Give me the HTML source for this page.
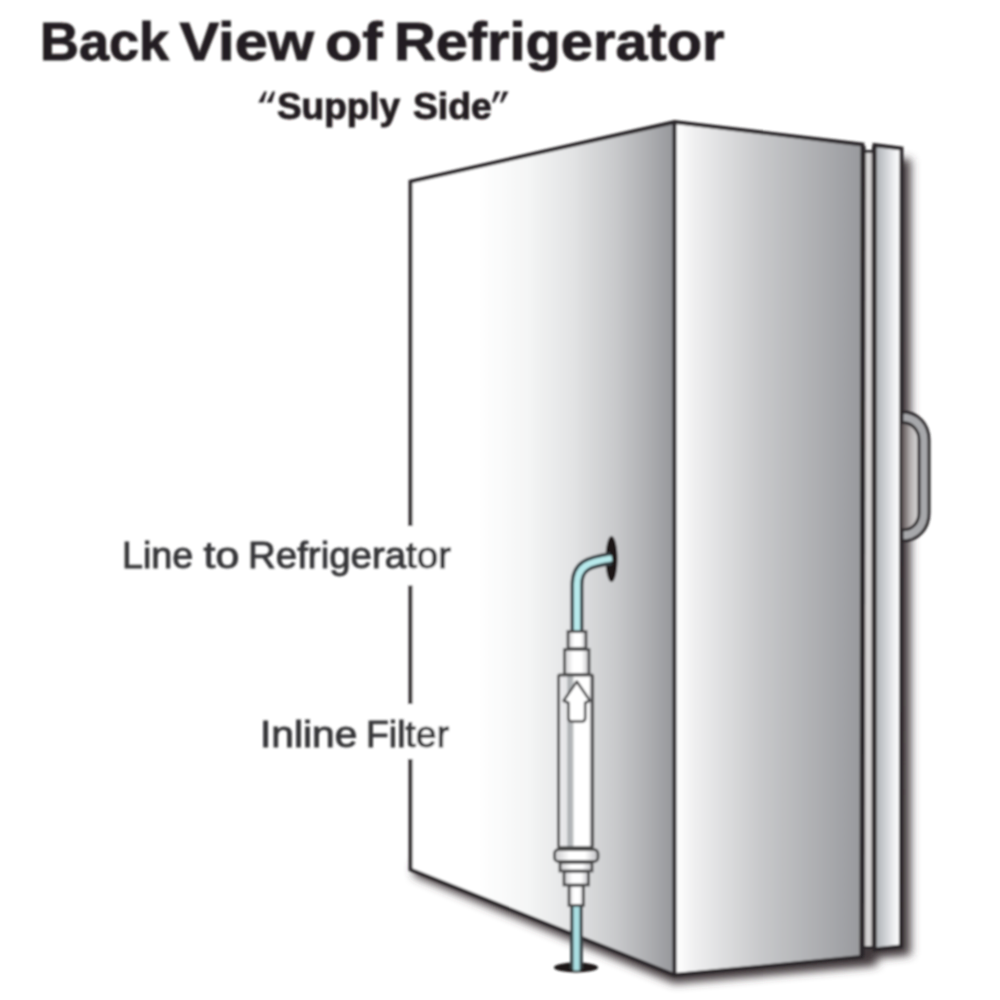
<!DOCTYPE html>
<html><head><meta charset="utf-8">
<style>
html,body{margin:0;padding:0;background:#fff;}
body{width:1000px;height:1000px;overflow:hidden;font-family:"Liberation Sans",sans-serif;}
svg{display:block;}
text{font-family:"Liberation Sans",sans-serif;}
</style></head><body>
<svg width="1000" height="1000" viewBox="0 0 1000 1000">
<defs>
  <linearGradient id="gL" x1="411" y1="0" x2="674" y2="0" gradientUnits="userSpaceOnUse">
    <stop offset="0" stop-color="#ffffff"/>
    <stop offset="0.25" stop-color="#ffffff"/>
    <stop offset="0.45" stop-color="#f4f5f5"/>
    <stop offset="0.62" stop-color="#e2e3e4"/>
    <stop offset="0.78" stop-color="#c8c9cb"/>
    <stop offset="0.9" stop-color="#aeafb2"/>
    <stop offset="1" stop-color="#96979b"/>
  </linearGradient>
  <linearGradient id="gR" x1="676" y1="0" x2="863" y2="0" gradientUnits="userSpaceOnUse">
    <stop offset="0" stop-color="#ffffff"/>
    <stop offset="0.10" stop-color="#efeff0"/>
    <stop offset="0.45" stop-color="#c8c9cb"/>
    <stop offset="1" stop-color="#98999d"/>
  </linearGradient>
  <linearGradient id="gD" x1="875" y1="0" x2="901" y2="0" gradientUnits="userSpaceOnUse">
    <stop offset="0" stop-color="#a9adb2"/>
    <stop offset="0.75" stop-color="#f0f1f3"/>
    <stop offset="1" stop-color="#ffffff"/>
  </linearGradient>
  <linearGradient id="gS" x1="863" y1="0" x2="874" y2="0" gradientUnits="userSpaceOnUse">
    <stop offset="0" stop-color="#a9a5a6"/>
    <stop offset="0.5" stop-color="#dddbdb"/>
    <stop offset="1" stop-color="#aaa6a7"/>
  </linearGradient>
  <linearGradient id="gBody" x1="558.500" y1="0" x2="592.500" y2="0" gradientUnits="userSpaceOnUse">
    <stop offset="0" stop-color="#dcdcde"/>
    <stop offset="0.06" stop-color="#e9e9eb"/>
    <stop offset="0.25" stop-color="#e4e4e6"/>
    <stop offset="0.275" stop-color="#a9adb0"/>
    <stop offset="0.42" stop-color="#b9bcbe"/>
    <stop offset="0.46" stop-color="#ffffff"/>
    <stop offset="0.90" stop-color="#ffffff"/>
    <stop offset="0.95" stop-color="#9a9a9d"/>
    <stop offset="1" stop-color="#8a8a8d"/>
  </linearGradient>
  <linearGradient id="gFit" x1="0" y1="0" x2="1" y2="0">
    <stop offset="0" stop-color="#c9c9cb"/>
    <stop offset="0.35" stop-color="#ffffff"/>
    <stop offset="0.7" stop-color="#ffffff"/>
    <stop offset="1" stop-color="#bdbdc0"/>
  </linearGradient>
  <linearGradient id="gHs" x1="902" y1="0" x2="919" y2="0" gradientUnits="userSpaceOnUse">
    <stop offset="0" stop-color="#5a5152"/>
    <stop offset="0.5" stop-color="#b5b0b0"/>
    <stop offset="1" stop-color="#dcdcdd"/>
  </linearGradient>
  <filter id="b4" x="-20%" y="-20%" width="140%" height="140%"><feGaussianBlur stdDeviation="4.600 4.500"/></filter>
  <filter id="b1" x="-5%" y="-5%" width="110%" height="110%"><feGaussianBlur stdDeviation="0.950"/></filter>
</defs>

<g filter="url(#b1)">
<!-- shadows -->
<g filter="url(#b4)" fill="#41373a">
  <polygon points="414,862 414,876 674.500,983.500 862,967 877,965.500 877,958 910.500,955 910.500,159 890,159 890,900 700,900"/>
</g>

<!-- fridge faces -->
<polygon points="410.500,181.500 674.500,122 674.500,975 410.500,869.500" fill="url(#gL)"/>
<polygon points="674.500,122 862.500,144.500 861.500,957 674.500,975" fill="url(#gR)"/>
<polygon points="862,151 874.500,151 874.500,947 861.500,947" fill="url(#gS)"/>
<polygon points="874.500,145 901.500,148.500 901,946.500 874.500,949.500" fill="url(#gD)"/>

<!-- outlines -->
<g fill="none" stroke="#2c2829" stroke-width="3.900" stroke-linejoin="miter" stroke-linecap="butt">
  <path d="M410.500 526 L410.500 181.500 L674.500 122 L862.500 144.500 L861.500 957 L674.500 975 L410.500 869.500 L410.500 759"/>
  <path d="M410.500 585.500 L410.500 704"/>
  <path d="M674.500 122 L674.500 975"/>
  <path d="M874.500 949.500 L874.500 145 L901.500 148.500 L901 946.500 Z"/>
  <path d="M863.500 146 L862.500 956" stroke-width="4.200"/>
  <path d="M874 146 L874 949" stroke-width="4.200"/>
  <path d="M862 151.500 L874.500 151.500" stroke-width="3"/>
  <path d="M861.500 947.500 L874.500 947.500" stroke-width="3"/>
</g>

<!-- handle -->
<path d="M902 422.500 C912 422.500 919 430 919 440 L919 513 C919 523 912 530 902 530 Z" fill="url(#gHs)"/>
<path d="M902 412 C918 412 929 424 929 440 L929 513 C929 529 918 541 902 541 L902 530 C912 530 919 523 919 513 L919 440 C919 430 912 422.500 902 422.500 Z" fill="#a7a8ab" stroke="#2c2829" stroke-width="3"/>

<!-- wall hole -->
<ellipse cx="611.500" cy="559" rx="6" ry="23" fill="#1c1819"/>
<!-- floor hole -->
<ellipse cx="576" cy="967.500" rx="22" ry="5" fill="#1c1819"/>

<!-- tubes -->
<g fill="none" stroke-linecap="butt">
  <path d="M577 632 L577 585 C577 566 588 562 611 558.500" stroke="#364044" stroke-width="13"/>
  <path d="M577 632 L577 585 C577 566 588 562 612 558.300" stroke="#b8eaec" stroke-width="6.200"/>
  <path d="M576.500 904 L576.500 969.500" stroke="#364044" stroke-width="12.600"/>
  <path d="M576.500 904 L576.500 970.500" stroke="#aadfe3" stroke-width="6.200"/>
</g>

<!-- filter -->
<g stroke="#48484a" stroke-width="2.800">
  <rect x="568" y="631.500" width="18" height="17" fill="url(#gFit)"/>
  <rect x="564.500" y="649.500" width="24.500" height="25" fill="url(#gFit)"/>
  <rect x="558.500" y="675" width="34.200" height="172.500" rx="1.500" fill="url(#gBody)"/>
  <rect x="554.500" y="849.500" width="43.500" height="12" rx="4" fill="url(#gFit)"/>
  <rect x="560" y="862.500" width="32" height="8.500" fill="url(#gFit)"/>
  <rect x="564" y="871.500" width="24.500" height="13.500" fill="url(#gFit)"/>
  <rect x="569" y="885.500" width="14.500" height="20" fill="url(#gFit)"/>
  <path d="M576.800 681.500 L590 700.800 L585.200 702.800 L585.200 718 Q585.200 721.500 581.700 721.500 L571.900 721.500 Q568.400 721.500 568.400 718 L568.400 702.800 L563.600 700.800 Z" fill="#ffffff" stroke-width="2.600" stroke-linejoin="round"/>
</g>

<!-- quotes -->
<g fill="#231f20">
  <polygon points="258.300,102.500 263.500,102.500 266.800,91.500 264.300,91.500"/>
  <polygon points="266.600,102.500 271.800,102.500 275.100,91.500 272.600,91.500"/>
  <polygon points="495.300,91.500 500.500,91.500 494.500,102.500 492,102.500"/>
  <polygon points="503.300,91.500 508.500,91.500 502.500,102.500 500,102.500"/>
</g>
<!-- text -->
<text x="40.00" y="60" font-size="53" font-weight="bold" textLength="129.10" lengthAdjust="spacingAndGlyphs" fill="#231f20" stroke="#231f20" stroke-width="0.9">Back</text>
<text x="179.50" y="60" font-size="53" font-weight="bold" textLength="134.51" lengthAdjust="spacingAndGlyphs" fill="#231f20" stroke="#231f20" stroke-width="0.9">View</text>
<text x="325.00" y="60" font-size="53" font-weight="bold" textLength="57.56" lengthAdjust="spacingAndGlyphs" fill="#231f20" stroke="#231f20" stroke-width="0.9">of</text>
<text x="394.00" y="60" font-size="53" font-weight="bold" textLength="330.57" lengthAdjust="spacingAndGlyphs" fill="#231f20" stroke="#231f20" stroke-width="0.9">Refrigerator</text>
<text x="277.00" y="119" font-size="37" font-weight="bold" textLength="123.02" lengthAdjust="spacingAndGlyphs" fill="#231f20" stroke="#231f20" stroke-width="0.9">Supply</text>
<text x="413.00" y="119" font-size="37" font-weight="bold" textLength="78.58" lengthAdjust="spacingAndGlyphs" fill="#231f20" stroke="#231f20" stroke-width="0.9">Side</text>
<text x="122.00" y="567.5" font-size="36" font-weight="normal" textLength="71.34" lengthAdjust="spacingAndGlyphs" fill="#363638" stroke="#363638" stroke-width="0.9">Line</text>
<text x="203.50" y="567.5" font-size="36" font-weight="normal" textLength="35.68" lengthAdjust="spacingAndGlyphs" fill="#363638" stroke="#363638" stroke-width="0.9">to</text>
<text x="248.00" y="567.5" font-size="36" font-weight="normal" textLength="203.07" lengthAdjust="spacingAndGlyphs" fill="#363638" stroke="#363638" stroke-width="0.9">Refrigerator</text>
<text x="260.00" y="747" font-size="36" font-weight="normal" textLength="97.30" lengthAdjust="spacingAndGlyphs" fill="#363638" stroke="#363638" stroke-width="0.9">Inline</text>
<text x="366.00" y="747" font-size="36" font-weight="normal" textLength="83.14" lengthAdjust="spacingAndGlyphs" fill="#363638" stroke="#363638" stroke-width="0.9">Filter</text>
</g>
</svg>
</body></html>
